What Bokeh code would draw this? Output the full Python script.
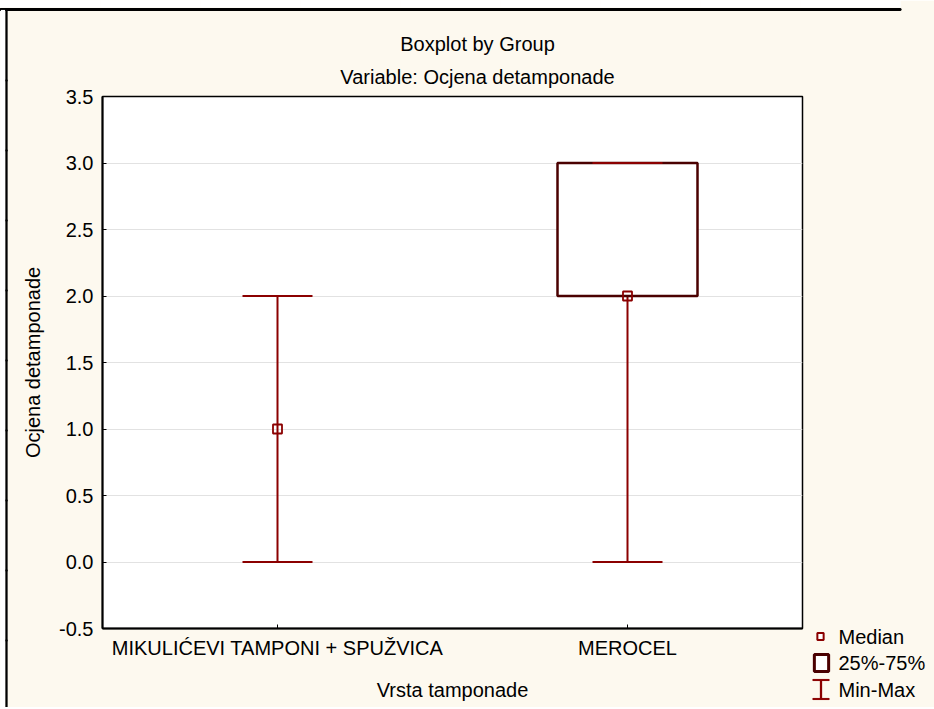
from bokeh.plotting import figure
from bokeh.models import (ColumnDataSource, FixedTicker, Label,
                          Range1d, FactorRange, PrintfTickFormatter)
from bokeh.transform import dodge
from bokeh.embed import file_html
from bokeh.resources import INLINE

# ---------------- data ----------------
categories = ["MIKULIĆEVI TAMPONI + SPUŽVICA", "MEROCEL"]
mins = [0.0, 0.0]
q1s = [1.0, 2.0]
medians = [1.0, 2.0]
q3s = [1.0, 3.0]
maxs = [2.0, 3.0]
y_ticks = [-0.5, 0.0, 0.5, 1.0, 1.5, 2.0, 2.5, 3.0, 3.5]

title_text = "Boxplot by Group"
subtitle_text = "Variable: Ocjena detamponade"
x_label = "Vrsta tamponade"
y_label = "Ocjena detamponade"
legend_labels = ["Median", "25%-75%", "Min-Max"]

# ---------------- style ----------------
FONT = "Liberation Sans"
FS = "20px"
CREAM = "#fdf9ef"
RED = "#8b0000"
DARK = "#4a0000"
GRID = "#e2e2e2"

FRAME_W, FRAME_H = 700, 532
BL, BR, BT, BB = 102, 130, 96, 79

p = figure(x_range=FactorRange(factors=categories), y_range=Range1d(-0.5, 3.5),
           frame_width=FRAME_W, frame_height=FRAME_H,
           min_border_left=BL, min_border_right=BR, min_border_top=BT, min_border_bottom=BB,
           output_backend="svg", toolbar_location=None,
           background_fill_color="white", border_fill_color=CREAM)

p.outline_line_color = "black"
p.outline_line_width = 1.5
p.xgrid.visible = False
p.ygrid.grid_line_color = GRID
p.ygrid.grid_line_width = 1

for ax in (p.xaxis[0], p.yaxis[0]):
    ax.axis_line_color = "black"
    ax.axis_line_width = 2
    ax.major_tick_in = 4
    ax.major_tick_out = 0
    ax.major_tick_line_color = "black"
    ax.minor_tick_line_color = None
    ax.major_label_text_font = FONT
    ax.major_label_text_font_size = FS
    ax.major_label_text_color = "black"
    ax.axis_label_text_font = FONT
    ax.axis_label_text_font_size = FS
    ax.axis_label_text_font_style = "normal"
    ax.axis_label_text_color = "black"

p.yaxis.ticker = FixedTicker(ticks=y_ticks)
p.yaxis.formatter = PrintfTickFormatter(format="%.1f")
p.yaxis.major_label_standoff = 9
p.yaxis.axis_label = y_label
p.yaxis.axis_label_standoff = 12
p.xaxis.major_label_standoff = 8
p.xaxis.axis_label = x_label
p.xaxis.axis_label_standoff = 17

src = ColumnDataSource(dict(cat=categories, lo=mins, q1=q1s, med=medians, q3=q3s, hi=maxs))
box_idx = [i for i in range(len(categories)) if q3s[i] > q1s[i]]
box_src = ColumnDataSource(dict(cat=[categories[i] for i in box_idx],
                                q1=[q1s[i] for i in box_idx],
                                q3=[q3s[i] for i in box_idx]))

# whisker stems
p.segment(x0="cat", y0="lo", x1="cat", y1="hi", source=src, line_color=RED, line_width=2)
# boxes
p.vbar(x="cat", width=0.4, bottom="q1", top="q3", source=box_src,
       fill_color="white", line_color=DARK, line_width=2.5)
# caps
for col in ("lo", "hi"):
    p.segment(x0=dodge("cat", -0.1, range=p.x_range), y0=col,
              x1=dodge("cat", 0.1, range=p.x_range), y1=col,
              source=src, line_color=RED, line_width=2)
# medians
p.scatter(x="cat", y="med", source=src, marker="square", size=9,
          fill_alpha=0, line_color=RED, line_width=1.8)

# ---------------- pixel helpers for layout outside the frame ----------------
FX0, FY0 = BL, BT  # frame top-left on canvas


def sx(px):
    return (px - FX0) / FRAME_W * len(categories)


def sy(py):
    return 3.5 - (py - FY0) / FRAME_H * 4.0


SIDE = "right"  # side-panel annotations are not clipped to the frame


def text_label(txt, px, py, align="left", baseline="middle"):
    p.add_layout(Label(x=sx(px), y=sy(py), text=txt, text_align=align,
                       text_baseline=baseline, text_font=FONT, text_font_size=FS,
                       text_color="black"), SIDE)


def box_label(cx, cy, pad, fill, line=None, lw=0):
    # a blank label used purely as a rectangle (background + border)
    p.add_layout(Label(x=sx(cx), y=sy(cy), text=" ", text_align="center",
                       text_baseline="middle", text_font=FONT, text_font_size="1px",
                       text_color=fill, text_alpha=1, padding=pad,
                       background_fill_color=fill, background_fill_alpha=1,
                       border_line_color=line, border_line_width=lw), SIDE)


# outer picture frame (white margin + black top/left edge), built from short pieces
for cx in range(50, 900, 100):
    box_label(cx, 3.5, (50, 3), "white")
    box_label(cx, 9, (50, 0), "black", "black", 2)
for cy in range(45, 709, 70):
    box_label(2.5, cy, (2, 35), "white")
    box_label(6, cy, (0, 35), "black", "black", 2)

# titles
text_label(title_text, 477, 43.5, align="center", baseline="alphabetic")
text_label(subtitle_text, 477, 76, align="center", baseline="alphabetic")

# legend
box_label(820, 636, (3, 3), "white", RED, 2)
box_label(821, 662.5, (7, 8), "white", DARK, 3)
box_label(820.5, 689, (1, 9), RED)
box_label(820.5, 679.5, (8, 0), RED, RED, 1)
box_label(820.5, 698.5, (8, 0), RED, RED, 1)
text_label(legend_labels[0], 838, 636)
text_label(legend_labels[1], 838, 662)
text_label(legend_labels[2], 838, 689)

open("out.html", "w").write(file_html(p, INLINE))
